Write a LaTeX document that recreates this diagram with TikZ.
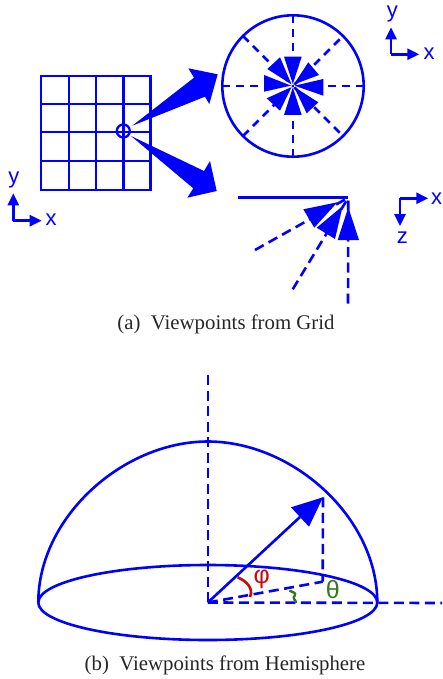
\documentclass[tikz,border=0pt]{standalone}
\usepackage{fontspec}
\setmainfont{Liberation Serif}
\newfontfamily\axisfont{Liberation Sans}
\usetikzlibrary{arrows.meta}
\definecolor{dblue}{RGB}{0,0,255}
\definecolor{anglered}{RGB}{200,10,10}
\definecolor{anglegreen}{RGB}{56,118,29}
\tikzset{
  line/.style={draw=dblue,line width=2.6pt},
  thinline/.style={draw=dblue,line width=2.3pt},
  dashline/.style={draw=dblue,line width=2.6pt,dash pattern=on 10pt off 5.5pt},
  wedge/.style={fill=dblue,draw=none},
  axisline/.style={draw=dblue,line width=2.6pt,-{Triangle[length=12pt,width=11pt]}},
  axislabel/.style={text=dblue,font=\axisfont\fontsize{22}{22}\selectfont,inner sep=0pt},
  caption/.style={font=\fontsize{20.8}{20.8}\selectfont,inner sep=0pt,text=black!85},
  anglelabel/.style={font=\axisfont\fontsize{25}{25}\selectfont,inner sep=0pt}
}
\begin{document}
\begin{tikzpicture}[x=1pt,y=-1pt]
\useasboundingbox (0,0) rectangle (442,679);
% grid
\draw[thinline] (41,76) rectangle (150.5,190);
\foreach \gx in {69,96,123.5} \draw[thinline] (\gx,76) -- (\gx,190);
\foreach \gy in {104.3,132.3,160.7} \draw[thinline] (41,\gy) -- (150.5,\gy);
\draw[thinline] (123.3,131) circle (6.5);
% big arrows
\fill[wedge] (132.3,125.7) -- (194,77.7) -- (188.3,68.3) -- (217.7,74.3) -- (209.3,104) -- (205,96.7) -- cycle;
\fill[wedge] (131,136) -- (204,171) -- (210,161) -- (216.7,191) -- (187.3,197.7) -- (193.3,188.3) -- cycle;
% top view
\coordinate (tc) at (293,86);
\draw[line] (tc) circle (70.7);
\foreach \ang/\rr in {0/70.7,45/66,90/70.7,135/70.7,180/70.7,225/70.7,270/70.7,315/66}
  \draw[dashline,dash pattern=on 8pt off 6pt] (tc) ++({\rr*cos(\ang)},{\rr*sin(\ang)}) -- (tc);
\fill[wedge] (292.8,84) -- (284,56.7) -- (301.7,56.7) -- cycle;
\fill[wedge] (293.8,84.5) -- (308.3,62.3) -- (319,75) -- cycle;
\fill[wedge] (294.5,85.7) -- (323.3,79) -- (323.3,95.7) -- cycle;
\fill[wedge] (294,86.8) -- (318.3,102.3) -- (306.7,113.3) -- cycle;
\fill[wedge] (292.8,87.5) -- (301.7,115) -- (284,115) -- cycle;
\fill[wedge] (291.6,87) -- (280,110.7) -- (266.7,98.3) -- cycle;
\fill[wedge] (291,85.6) -- (264,91.7) -- (264,75) -- cycle;
\fill[wedge] (291.6,84.5) -- (267.3,69) -- (280,57.3) -- cycle;
% side view
\coordinate (apex) at (348.3,197.7);
\coordinate (sideleft) at (238.3,197.7);
\coordinate (d1) at (255,250);
\coordinate (d2) at (292.7,289.3);
\coordinate (d3) at (348,303.5);
\draw[line] (sideleft) -- (apex);
\draw[dashline] (d1) -- (apex);
\draw[dashline] (d2) -- (apex);
\draw[dashline] (d3) -- (apex);
\fill[wedge] (337.3,202.3) -- (303.3,209.3) -- (314.3,227.7) -- cycle;
\fill[wedge] (342.7,206) -- (316.7,227.7) -- (335,239) -- cycle;
\fill[wedge] (348.3,207.3) -- (337.7,240) -- (359,240) -- cycle;
% axes top right
\coordinate (o1) at (391,54.3);
\coordinate (o1y) at (391,27.3);
\coordinate (o1x) at (419.3,54.3);
\draw[axisline] (o1) -- (o1y);
\draw[axisline] (o1) -- (o1x);
\node[axislabel] (ly1) at (392.3,14) {y};
\node[axislabel] (lx1) at (429,54) {x};
% axes xz
\coordinate (o2) at (400,198.3);
\coordinate (o2x) at (428.3,198.3);
\coordinate (o2z) at (400,226);
\draw[axisline] (o2) -- (o2x);
\draw[axisline] (o2) -- (o2z);
\node[axislabel] (lx2) at (436.7,198.3) {x};
\node[axislabel] (lz2) at (402.3,237.5) {z};
% axes left
\coordinate (o3) at (13.3,220.7);
\coordinate (o3y) at (13.3,193.3);
\coordinate (o3x) at (41.7,220.7);
\draw[axisline] (o3) -- (o3y);
\draw[axisline] (o3) -- (o3x);
\node[axislabel] (ly3) at (14,180) {y};
\node[axislabel] (lx3) at (51,220) {x};
% captions
\node[caption] (capa) at (226,324) {(a)\ \ Viewpoints from Grid};
\node[caption] (capb) at (225,665) {(b)\ \ Viewpoints from Hemisphere};
% hemisphere
\coordinate (hc) at (207.8,602.5);
\coordinate (htop) at (207.8,375);
\coordinate (hright) at (442,603);
\coordinate (htip) at (323,497.3);
\coordinate (hfoot) at (322.7,581.7);
\draw[line] (hc) ellipse [x radius=169.5,y radius=37.5];
\draw[line] (38.3,602.5) .. controls (38.3,517) and (123.1,441.5) .. (207.8,441.5) .. controls (292.5,441.5) and (377.3,517) .. (377.3,602.5);
\draw[dashline] (htop) -- (hc);
\draw[dashline] (hc) -- (hright);
\draw[dashline] (htip) -- (hfoot);
\draw[dashline] (hc) -- (hfoot);
\draw[line] (hc) -- (300,517);
\fill[wedge] (htip) -- (291,507.3) -- (309,526.7) -- cycle;
\draw[anglered,line width=2.6pt] (237.7,577.3) .. controls (246,581) and (254,588) .. (250,597);
\draw[anglegreen,line width=2.4pt] (289.3,590.7) .. controls (293,592) and (296,593) .. (295,595) .. controls (294,597) and (293,598) .. (294,599) .. controls (295,600) and (296,601) .. (296,603);
\node[anglelabel,text=anglered] (phi) at (261.7,579) {φ};
\node[anglelabel,text=anglegreen] (theta) at (332.7,590) {θ};
\end{tikzpicture}
\end{document}
